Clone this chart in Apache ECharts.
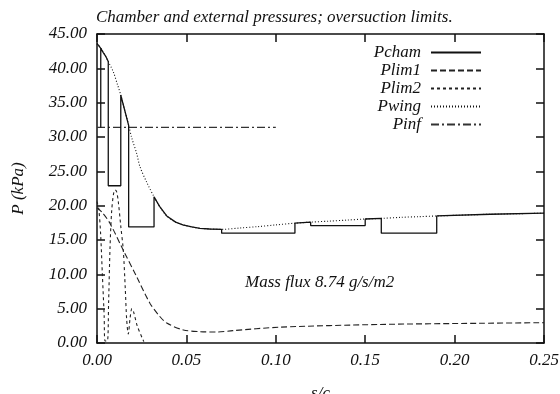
<!DOCTYPE html>
<html>
<head>
<meta charset="utf-8">
<script src="https://cdn.jsdelivr.net/npm/echarts@6/dist/echarts.min.js"></script>
<style>html,body{margin:0;padding:0;background:#fff}#c{width:560px;height:394px}</style>
</head>
<body>
<div id="c"></div>
<script>
// ---- data ----
const xTicks = [0, 0.05, 0.10, 0.15, 0.20, 0.25];
const yTicks = [0, 5, 10, 15, 20, 25, 30, 35, 40, 45];

const chamS = [0, 0.001, 0.0021, 0.0021, 0.0021, 0.0035, 0.005, 0.0063, 0.0063, 0.0133, 0.0133, 0.0155, 0.0177, 0.0177, 0.0319, 0.0319, 0.035, 0.039, 0.044, 0.048, 0.053, 0.0576, 0.063, 0.0697, 0.0697, 0.1107, 0.1107, 0.1195, 0.1195, 0.150, 0.150, 0.159, 0.159, 0.190, 0.190, 0.220, 0.250];
const chamP = [43.6, 43.3, 42.9, 31.4, 42.9, 42.3, 41.7, 41.0, 22.9, 22.9, 36.1, 33.9, 31.7, 16.9, 16.9, 21.3, 19.9, 18.5, 17.6, 17.2, 16.9, 16.7, 16.6, 16.55, 16.0, 16.0, 17.45, 17.6, 17.1, 17.1, 18.06, 18.15, 16.0, 16.0, 18.5, 18.75, 18.9];

const lim1S = [0, 0.003, 0.0073, 0.0147, 0.0222, 0.0296, 0.035, 0.039, 0.0483, 0.0576, 0.067, 0.076, 0.102, 0.158, 0.214, 0.250];
const lim1P = [19.7, 19.0, 17.4, 13.5, 9.65, 5.8, 3.9, 2.9, 1.9, 1.65, 1.6, 1.8, 2.3, 2.7, 2.87, 2.96];

const lim2S = [0, 0.001, 0.002, 0.003, 0.004, 0.0045, 0.0058, 0.0065, 0.0073, 0.0082, 0.0093, 0.0102, 0.011, 0.0119, 0.0133, 0.0147, 0.0158, 0.0166, 0.0175, 0.0185, 0.0195, 0.0205, 0.0225, 0.0262];
const lim2P = [20.6, 19.5, 16.0, 10.0, 4.0, 0.3, 0.3, 6.0, 14.0, 19.2, 21.8, 22.3, 22.0, 20.6, 17.0, 13.5, 8.0, 3.4, 1.3, 3.6, 5.0, 4.5, 2.5, 0.2];

const wingS = [0, 0.0022, 0.0045, 0.0063, 0.0091, 0.0115, 0.0133, 0.0155, 0.0177, 0.0195, 0.0222, 0.024, 0.028, 0.0319, 0.035, 0.039, 0.044, 0.048, 0.053, 0.0576, 0.063, 0.0697, 0.080, 0.090, 0.100, 0.1107, 0.1195, 0.130, 0.140, 0.150, 0.159, 0.170, 0.180, 0.190, 0.220, 0.250];
const wingP = [43.6, 42.9, 41.9, 41.0, 39.5, 37.6, 36.1, 33.9, 31.7, 29.8, 27.6, 25.7, 23.3, 21.3, 19.9, 18.5, 17.6, 17.2, 16.9, 16.7, 16.6, 16.55, 16.75, 16.95, 17.2, 17.45, 17.6, 17.75, 17.9, 18.06, 18.15, 18.3, 18.4, 18.5, 18.75, 18.9];

const infS = [0, 0.10];
const infP = [31.4, 31.4];

const names = ['Pcham', 'Plim1', 'Plim2', 'Pwing', 'Pinf'];
const titleText = 'Chamber and external pressures; oversuction limits.';
const noteText = 'Mass flux 8.74 g/s/m2';

// ---- build ----
const zip = (a, b) => a.map((v, i) => [v, b[i]]);
const FONT = 'Liberation Serif';
const INK = '#111';
const txt = { fontFamily: FONT, fontStyle: 'italic', fontSize: 17, color: INK };

const chart = echarts.init(document.getElementById('c'), null, { renderer: 'canvas' });

const legendTops = [44, 62, 80, 98, 116];
const legends = names.map((n, i) => ({
  data: [n], right: 78, top: legendTops[i], align: 'right', orient: 'vertical',
  itemWidth: 50, itemHeight: 14, selectedMode: false, padding: 0,
  itemStyle: { opacity: 0, borderWidth: 0 },
  textStyle: Object.assign({}, txt, { padding: [0, 5, 0, 0] })
}));

const baseAxis = {
  type: 'value', min: 0,
  axisLine: { show: true, onZero: false, lineStyle: { color: INK, width: 1.5 } },
  axisTick: { show: true, inside: true, length: 8, lineStyle: { color: INK, width: 1.5 } },
  splitLine: { show: false }
};

const option = {
  animation: false,
  backgroundColor: '#fff',
  title: [
    { text: titleText, left: 96, top: 9, padding: 0, textStyle: Object.assign({}, txt, { fontSize: 17, fontWeight: 'normal' }) },
    { text: noteText, left: 245, top: 274, padding: 0, textStyle: Object.assign({}, txt, { fontSize: 17, fontWeight: 'normal' }) }
  ],
  legend: legends,
  grid: { left: 97, right: 16, top: 34, bottom: 51, containLabel: false, outerBoundsMode: 'none' },
  xAxis: [
    Object.assign({}, baseAxis, {
      position: 'bottom', max: 0.25, interval: 0.05,
      name: 's/c', nameLocation: 'middle', nameGap: 42,
      nameTextStyle: txt,
      axisLabel: Object.assign({}, txt, { margin: 9, formatter: v => v.toFixed(2) })
    }),
    Object.assign({}, baseAxis, {
      position: 'top', max: 0.25, interval: 0.05, axisLabel: { show: false }
    })
  ],
  yAxis: [
    Object.assign({}, baseAxis, {
      position: 'left', max: 45, interval: 5,
      name: 'P (kPa)', nameLocation: 'middle', nameGap: 70, nameRotate: 90,
      nameTextStyle: txt,
      axisLabel: Object.assign({}, txt, { margin: 10, formatter: v => v.toFixed(2) })
    }),
    Object.assign({}, baseAxis, {
      position: 'right', max: 45, interval: 5, axisLabel: { show: false }
    })
  ],
  series: [
    { name: 'Pcham', type: 'line', data: zip(chamS, chamP), symbol: 'none', showSymbol: false,
      lineStyle: { color: '#111', width: 1.3, type: 'solid' }, itemStyle: { color: '#111' }, z: 5 },
    { name: 'Plim1', type: 'line', data: zip(lim1S, lim1P), symbol: 'none', showSymbol: false, smooth: 0.3,
      lineStyle: { color: '#222', width: 1.1, type: [6, 3] }, itemStyle: { color: '#222' } },
    { name: 'Plim2', type: 'line', data: zip(lim2S, lim2P), symbol: 'none', showSymbol: false, smooth: 0.3,
      lineStyle: { color: '#222', width: 1.1, type: [3, 3] }, itemStyle: { color: '#222' } },
    { name: 'Pwing', type: 'line', data: zip(wingS, wingP), symbol: 'none', showSymbol: false, smooth: 0.3,
      lineStyle: { color: '#111', width: 1.1, type: [1, 2] }, itemStyle: { color: '#111' } },
    { name: 'Pinf', type: 'line', data: zip(infS, infP), symbol: 'none', showSymbol: false,
      lineStyle: { color: '#333', width: 1.1, type: [8, 3, 2, 3] }, itemStyle: { color: '#333' } }
  ]
};
chart.setOption(option);
</script>
</body>
</html>
